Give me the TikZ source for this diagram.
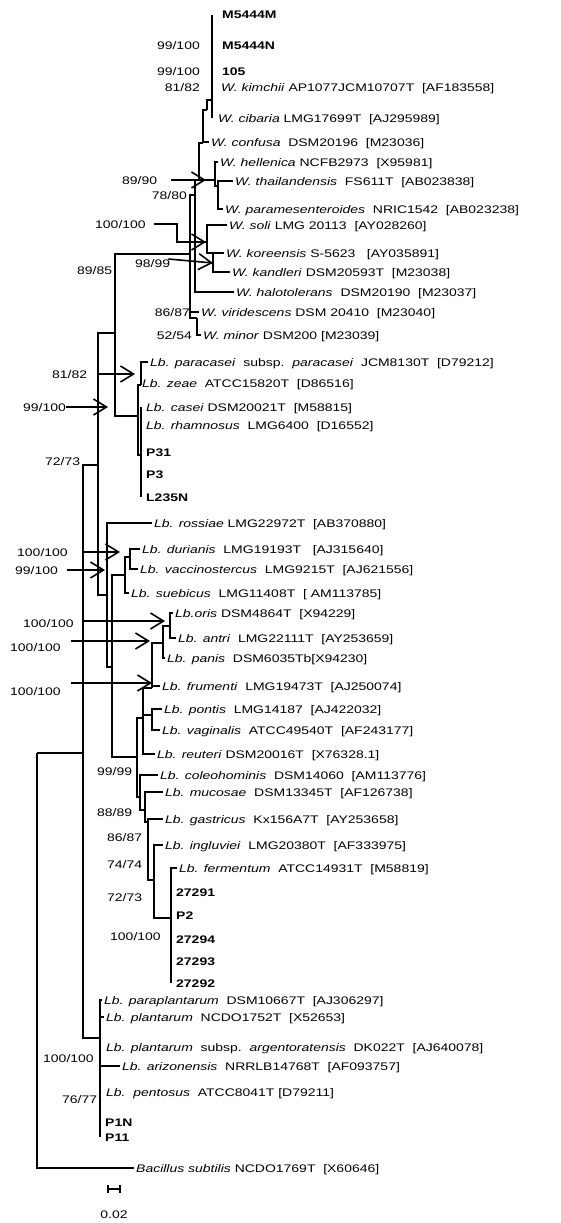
\documentclass[tikz,border=0pt]{standalone}
\usepackage{fontspec}
\setmainfont{Liberation Sans}[FakeStretch=1.27]
\usetikzlibrary{arrows.meta}

\tikzset{
  br/.style={line width=1.8pt},
  leaf/.style={anchor=west, inner sep=2pt, text height=8pt, text depth=0pt, font=\fontsize{11}{13}\selectfont},
  strain/.style={leaf, font=\fontsize{11}{13}\selectfont\bfseries},
  boot/.style={inner sep=0pt, text height=8pt, text depth=0pt, font=\fontsize{11}{13}\selectfont},
  barrow/.style={line width=1.6pt, -{Straight Barb[length=13pt,width=16pt,line width=1.6pt]}},
}

\begin{document}
\begin{tikzpicture}[x=1pt,y=-1pt]
\useasboundingbox (0,0) rectangle (561,1223);

% Weissella leaves
\foreach \n/\y in {M5444M/15, M5444N/45, 105/72}
  \node[strain, inner xsep=10pt] (s\n) at (212,\y) {\n};
\node[leaf, inner xsep=9pt] (kim) at (212,88) {\textit{W. kimchii} AP1077JCM10707T~~[AF183558]};
\node[leaf, inner xsep=6pt] (cib) at (212,118) {\textit{W. cibaria} LMG17699T~~[AJ295989]};
\node[leaf] (con) at (209,142) {\textit{W. confusa}~~DSM20196~~[M23036]};
\node[leaf] (hel) at (218,162) {\textit{W. hellenica} NCFB2973~~[X95981]};
\node[leaf] (tha) at (233,181) {\textit{W. thailandensis}~~FS611T~~[AB023838]};
\node[leaf] (par) at (223,209) {\textit{W. paramesenteroides}~~NRIC1542~~[AB023238]};
\node[leaf] (sol) at (227,225) {\textit{W. soli} LMG 20113~~[AY028260]};
\node[leaf] (kor) at (224,253) {\textit{W. koreensis} S-5623~~~[AY035891]};
\node[leaf] (kan) at (230,272) {\textit{W. kandleri} DSM20593T~~[M23038]};
\node[leaf] (hal) at (234,292) {\textit{W. halotolerans}~~DSM20190~~[M23037]};
\node[leaf] (vir) at (199,312) {\textit{W. viridescens} DSM 20410~~[M23040]};
\node[leaf] (min) at (201,335) {\textit{W. minor} DSM200 [M23039]};

% Lactobacillus leaves
\node[leaf] (pca) at (148,362) {\textit{Lb. paracasei}~~subsp.~~\textit{paracasei}~~JCM8130T~~[D79212]};
\node[leaf] (zea) at (140,383) {\textit{Lb. zeae}~~ATCC15820T~~[D86516]};
\node[leaf, inner xsep=5pt] (cas) at (141,407) {\textit{Lb. casei} DSM20021T~~[M58815]};
\node[leaf, inner xsep=5pt] (rha) at (141,425) {\textit{Lb. rhamnosus}~~LMG6400~~[D16552]};
\foreach \n/\y in {P31/452, P3/474, L235N/497}
  \node[strain, inner xsep=5pt] (s\n) at (141,\y) {\n};
\node[leaf] (ros) at (152,523) {\textit{Lb. rossiae} LMG22972T~~[AB370880]};
\node[leaf] (dur) at (140,549) {\textit{Lb. durianis}~~LMG19193T~~~[AJ315640]};
\node[leaf] (vac) at (138,569) {\textit{Lb. vaccinostercus}~~LMG9215T~~[AJ621556]};
\node[leaf] (sue) at (129,593) {\textit{Lb. suebicus}~~LMG11408T~~[ AM113785]};
\node[leaf] (ori) at (173,613) {\textit{Lb.oris} DSM4864T~~[X94229]};
\node[leaf] (ant) at (176,638) {\textit{Lb. antri}~~LMG22111T~~[AY253659]};
\node[leaf] (pan) at (165,658) {\textit{Lb. panis}~~DSM6035Tb[X94230]};
\node[leaf] (fru) at (160,686) {\textit{Lb. frumenti}~~LMG19473T~~[AJ250074]};
\node[leaf] (pon) at (162,709) {\textit{Lb. pontis}~~LMG14187~~[AJ422032]};
\node[leaf] (vag) at (160,730) {\textit{Lb. vaginalis}~~ATCC49540T~~[AF243177]};
\node[leaf] (reu) at (155,754) {\textit{Lb. reuteri} DSM20016T~~[X76328.1]};
\node[leaf] (col) at (158,775) {\textit{Lb. coleohominis}~~DSM14060~~[AM113776]};
\node[leaf] (muc) at (163,792) {\textit{Lb. mucosae}~~DSM13345T~~[AF126738]};
\node[leaf] (gas) at (163,819) {\textit{Lb. gastricus}~~Kx156A7T~~[AY253658]};
\node[leaf] (ing) at (163,845) {\textit{Lb. ingluviei}~~LMG20380T~~[AF333975]};
\node[leaf] (fer) at (177,868) {\textit{Lb. fermentum}~~ATCC14931T~~[M58819]};
\foreach \n/\y in {27291/892, P2/915, 27294/939, 27293/961, 27292/983}
  \node[strain, inner xsep=5pt] (s\n) at (171,\y) {\n};
\node[leaf] (ppl) at (102,1000) {\textit{Lb. paraplantarum}~~DSM10667T~~[AJ306297]};
\node[leaf] (pla) at (104,1017) {\textit{Lb. plantarum}~~NCDO1752T~~[X52653]};
\node[leaf, inner xsep=6pt] (arg) at (100,1047) {\textit{Lb. plantarum}~~subsp.~~\textit{argentoratensis}~~DK022T~~[AJ640078]};
\node[leaf] (ari) at (120,1066) {\textit{Lb. arizonensis}~~NRRLB14768T~~[AF093757]};
\node[leaf, inner xsep=6pt] (pen) at (100,1092) {\textit{Lb.~~pentosus}~~ATCC8041T [D79211]};
\foreach \n/\y in {P1N/1122, P11/1137}
  \node[strain, inner xsep=5pt] (s\n) at (100,\y) {\n};
\node[leaf] (bac) at (134,1168) {\textit{Bacillus subtilis} NCDO1769T~~[X60646]};

% inner nodes
\coordinate (R) at (37,753);
\coordinate (A) at (83,753);
\coordinate (B) at (98,465);
\coordinate (P) at (100,1038);
\coordinate (C) at (115,333);
\coordinate (E) at (107,595);
\coordinate (Cs) at (138,416);
\coordinate (PZ) at (141,385);
\coordinate (CR) at (141,455);
\coordinate (F) at (112,667);
\coordinate (G) at (125,575);
\coordinate (DV) at (130,557);
\coordinate (H) at (137,757);
\coordinate (Nr) at (143,718);
\coordinate (No) at (152,688);
\coordinate (OAP) at (163,643);
\coordinate (OA) at (170,626);
\coordinate (PV) at (152,715);
\coordinate (CG) at (140,797);
\coordinate (MG) at (145,810);
\coordinate (GG) at (148,822);
\coordinate (IG) at (154,880);
\coordinate (FG) at (171,918);
\coordinate (W0) at (190,254);
\coordinate (X) at (195,195);
\coordinate (W6) at (199,180);
\coordinate (N4) at (203,143);
\coordinate (N3) at (207,110);
\coordinate (K) at (212,100);
\coordinate (HP) at (215,180);
\coordinate (N7) at (218,186);
\coordinate (S) at (207,242);
\coordinate (KK) at (213,253);
\coordinate (VM) at (197,318);

% branches
\draw[br] (R) -- (A);
\draw[br] (R) |- (bac.west);
\foreach \c in {B,P} \draw[br] (A) |- (\c);
\foreach \c in {C,E} \draw[br] (B) |- (\c);
\draw[br] (C) |- (W0);
\draw[br] (C) |- (Cs);
\foreach \c in {PZ,CR} \draw[br] (Cs) |- (\c);
\foreach \c in {pca,zea} \draw[br] (PZ) |- (\c.west);
\foreach \c in {cas,rha,sP31,sP3,sL235N} \draw[br] (CR) |- (\c.west);
\draw[br] (E) |- (ros.west);
\draw[br] (E) |- (F);
\foreach \c in {G,H} \draw[br] (F) |- (\c);
\draw[br] (G) |- (DV);
\draw[br] (G) |- (sue.west);
\foreach \c in {dur,vac} \draw[br] (DV) |- (\c.west);
\foreach \c in {Nr,CG} \draw[br] (H) |- (\c);
\foreach \c in {No,PV} \draw[br] (Nr) |- (\c);
\draw[br] (Nr) |- (reu.west);
\draw[br] (No) |- (OAP);
\draw[br] (No) |- (fru.west);
\draw[br] (OAP) |- (OA);
\draw[br] (OAP) |- (pan.west);
\foreach \c in {ori,ant} \draw[br] (OA) |- (\c.west);
\foreach \c in {pon,vag} \draw[br] (PV) |- (\c.west);
\draw[br] (CG) |- (col.west);
\draw[br] (CG) |- (MG);
\draw[br] (MG) |- (muc.west);
\draw[br] (MG) |- (GG);
\draw[br] (GG) |- (gas.west);
\draw[br] (GG) |- (IG);
\draw[br] (IG) |- (ing.west);
\draw[br] (IG) |- (FG);
\foreach \c in {fer,s27291,sP2,s27294,s27293,s27292} \draw[br] (FG) |- (\c.west);
\foreach \c in {ppl,pla,arg,ari,pen,sP1N,sP11} \draw[br] (P) |- (\c.west);
% Weissella branches
\draw[br] (W0) |- (X);
\draw[br] (W0) |- (vir.west);
\draw[br] (W0) |- (VM);
\draw[br] (VM) |- (min.west);
\draw[br] (X) |- (W6);
\draw[br] (X) |- (S);
\draw[br] (X) |- (hal.west);
\draw[br] (W6) |- (N4);
\draw[br] (W6) |- (HP);
\draw[br] (N4) |- (N3);
\draw[br] (N4) |- (con.west);
\draw[br] (N3) |- (K);
\foreach \c in {sM5444M,sM5444N,s105,kim,cib} \draw[br] (K) |- (\c.west);
\draw[br] (HP) |- (hel.west);
\draw[br] (HP) |- (N7);
\foreach \c in {tha,par} \draw[br] (N7) |- (\c.west);
\draw[br] (S) |- (sol.west);
\draw[br] (S) |- (KK);
\foreach \c in {kor,kan} \draw[br] (KK) |- (\c.west);

% bootstrap values
\node[boot, anchor=east] (b1) at (200,45) {99/100};
\node[boot, anchor=east] (b2) at (200,72) {99/100};
\node[boot, anchor=east] (b3) at (200,88) {81/82};
\node[boot, anchor=west] (b4) at (122,180) {89/90};
\node[boot, anchor=east] (b5) at (187,195) {78/80};
\node[boot, anchor=west] (b6) at (95,224) {100/100};
\node[boot, anchor=west] (b7) at (77,270) {89/85};
\node[boot, anchor=west] (b8) at (135,263) {98/99};
\node[boot, anchor=east] (b9) at (190,312) {86/87};
\node[boot, anchor=east] (b10) at (192,335) {52/54};
\node[boot, anchor=west] (b11) at (52,374) {81/82};
\node[boot, anchor=west] (b12) at (23,407) {99/100};
\node[boot, anchor=west] (b13) at (45,461) {72/73};
\node[boot, anchor=west] (b14) at (17,552) {100/100};
\node[boot, anchor=west] (b15) at (15,570) {99/100};
\node[boot, anchor=west] (b16) at (23,623) {100/100};
\node[boot, anchor=west] (b17) at (10,647) {100/100};
\node[boot, anchor=west] (b18) at (10,691) {100/100};
\node[boot, anchor=west] (b19) at (97,771) {99/99};
\node[boot, anchor=west] (b20) at (97,812) {88/89};
\node[boot, anchor=west] (b21) at (107,837) {86/87};
\node[boot, anchor=west] (b22) at (107,864) {74/74};
\node[boot, anchor=west] (b23) at (107,897) {72/73};
\node[boot, anchor=west] (b24) at (110,936) {100/100};
\node[boot, anchor=west] (b25) at (43,1058) {100/100};
\node[boot, anchor=west] (b26) at (62,1099) {76/77};

% arrows to the nodes
\coordinate (t4) at (206,180);
\coordinate (t6a) at (177,224);
\coordinate (t6) at (206,242);
\coordinate (t8) at (213,263);
\coordinate (t11) at (135,374);
\coordinate (t12) at (108,407);
\coordinate (t14) at (120,552);
\coordinate (t15) at (105,570);
\coordinate (t16) at (165,621);
\coordinate (t17) at (150,641);
\coordinate (t18) at (152,683);
\draw[barrow] ([xshift=14pt]b4.east) -- (t4);
\draw[barrow] ([xshift=8pt]b6.east) -- (t6a) |- (t6);
\draw[barrow] ([xshift=-2pt,yshift=4pt]b8.east) -- (t8);
\draw[barrow] ([xshift=10pt]b11.east) -- (t11);
\draw[barrow] (b12.east) -- (t12);
\draw[barrow] ([xshift=15pt]b14.east) -- (t14);
\draw[barrow] ([xshift=9pt]b15.east) -- (t15);
\draw[barrow] ([xshift=8pt,yshift=2pt]b16.east) -- (t16);
\draw[barrow] ([xshift=10pt,yshift=6pt]b17.east) -- (t17);
\draw[barrow] ([xshift=10pt,yshift=8pt]b18.east) -- (t18);

% scale bar
\coordinate (sb1) at (108,1189);
\coordinate (sb2) at (120,1189);
\draw[br] (sb1) -- (sb2);
\draw[br] ([yshift=4pt]sb1) -- ([yshift=-4pt]sb1);
\draw[br] ([yshift=4pt]sb2) -- ([yshift=-4pt]sb2);
\node[boot] (sbl) at (114,1214) {0.02};
\end{tikzpicture}
\end{document}
